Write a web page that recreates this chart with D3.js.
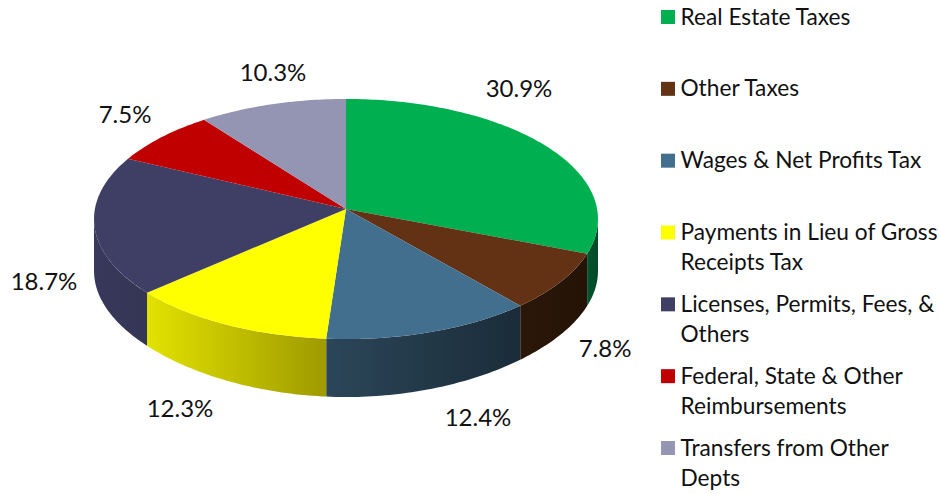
<!DOCTYPE html>
<html><head><meta charset="utf-8">
<script src="https://cdn.jsdelivr.net/npm/d3@7"></script>
<style>html,body{margin:0;background:#fff}svg{display:block}text{font-family:Lato,"Open Sans",sans-serif;fill:#111}</style>
</head><body><svg id="c" width="939" height="494"></svg>
<script>
const categories = ["Real Estate Taxes","Other Taxes","Wages & Net Profits Tax","Payments in Lieu of Gross Receipts Tax","Licenses, Permits, Fees, & Others","Federal, State & Other Reimbursements","Transfers from Other Depts"];
const legendLines = [["Real Estate Taxes"],["Other Taxes"],["Wages & Net Profits Tax"],["Payments in Lieu of Gross","Receipts Tax"],["Licenses, Permits, Fees, &","Others"],["Federal, State & Other","Reimbursements"],["Transfers from Other","Depts"]];
const values = [30.9,7.8,12.4,12.3,18.7,7.5,10.3];
const colors = ["#00b050","#633215","#426f8e","#ffff00","#3f3f66","#c00000","#9494b3"];
const sideLeft = ["#00562c","#2a1708","#2b4659","#e2e200","#38385c","#6a0000","#55556a"];
const sideRight = ["#00482a","#241306","#1a2c39","#9e9a00","#353554","#6a0000","#55556a"];

// layout
const cx=346, apexY=209, A=251.1, B=119.2, k=1/12;
const labelAt=[[519,88],[605,348],[478,417],[180,408],[44,281],[125,114],[273,72]];
const labelSize=24, legendSize=22.7;

const svg=d3.select("#c"), defs=svg.append("defs");
const arcs=d3.pie().sort(null).value(d=>d)(values);
const proj=a=>{const u=Math.sin(a),v=-Math.cos(a),s=1/(1-k*v);return [cx+A*u*s,apexY+B*v*s,v];};
const sample=(a0,a1)=>d3.range(0,1.0001,1/Math.max(8,Math.ceil((a1-a0)*60))).map(t=>proj(a0+(a1-a0)*t));
const drop=v=>52+6*Math.pow(Math.max(v,0),4);
const line=d3.line();

// the wall shows only between the rim's right-most and left-most points
const rim=d3.range(0,2*Math.PI,0.002);
const aRight=rim[d3.greatestIndex(rim,a=>proj(a)[0])];
const aLeft=rim[d3.leastIndex(rim,a=>proj(a)[0])];

const walls=svg.append("g"), tops=svg.append("g");
arcs.forEach((d,i)=>{
  const a0=Math.max(d.startAngle,aRight), a1=Math.min(d.endAngle,aLeft);
  if(a1<=a0) return;
  const pts=sample(a0,a1);
  const xs=pts.map(p=>p[0]);
  const id="g"+i;
  const g=defs.append("linearGradient").attr("id",id).attr("gradientUnits","userSpaceOnUse")
    .attr("x1",d3.min(xs)).attr("x2",d3.max(xs)).attr("y1",0).attr("y2",0);
  g.append("stop").attr("offset",0).attr("stop-color",sideLeft[i]);
  g.append("stop").attr("offset",1).attr("stop-color",sideRight[i]);
  const upper=pts.map(p=>[p[0],p[1]]);
  const lower=pts.map(p=>[p[0],p[1]+drop(p[2])]).reverse();
  walls.append("path").attr("d",line(upper.concat(lower))+"Z").attr("fill",`url(#${id})`);
});
arcs.forEach((d,i)=>{
  const pts=sample(d.startAngle,d.endAngle).map(p=>[p[0],p[1]]);
  tops.append("path").attr("d",line([[cx,apexY]].concat(pts))+"Z").attr("fill",colors[i]);
});

svg.append("g").selectAll("text").data(values).join("text")
  .attr("x",(d,i)=>labelAt[i][0]).attr("y",(d,i)=>labelAt[i][1]+8.5)
  .attr("text-anchor","middle").attr("font-size",labelSize)
  .text(d=>d3.format(".1f")(d)+"%");

const rowY=d3.scaleLinear().domain([0,6]).range([17,448]);
const lg=svg.append("g").selectAll("g").data(categories).join("g");
lg.append("rect").attr("x",661).attr("width",14).attr("height",14)
  .attr("y",(d,i)=>rowY(i)-7).attr("fill",(d,i)=>colors[i]);
lg.each(function(d,i){
  d3.select(this).selectAll("text").data(legendLines[i]).join("text")
    .attr("x",680.5).attr("y",(t,j)=>rowY(i)+7.5+j*30).attr("font-size",legendSize).text(t=>t);
});
</script></body></html>
